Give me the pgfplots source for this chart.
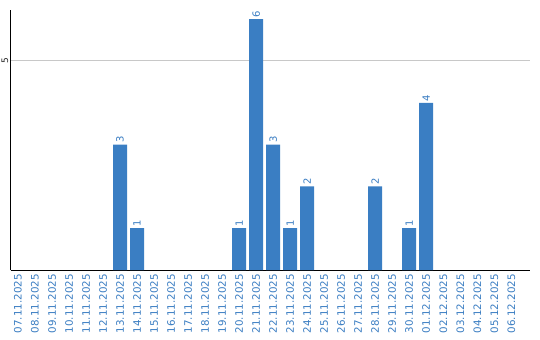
\documentclass[border=0pt]{standalone}
\usepackage{pgfplots}
\pgfplotsset{compat=1.18}
\usepackage{fontspec}
\setmainfont{DejaVu Sans}
\definecolor{barblue}{HTML}{3A7EC3}
\definecolor{txtblue}{HTML}{3A7DC2}
\definecolor{gridgray}{HTML}{C8C8C8}
\begin{document}
\begin{tikzpicture}
\useasboundingbox (-10.5bp,-70bp) rectangle (529.5bp,270bp);
\begin{axis}[
  at={(0,0)}, anchor=south west,
  scale only axis, width=519.5bp, height=260bp,
  xmin=-0.44, xmax=30.1, ymin=0, ymax=6.22,
  axis x line=bottom, axis y line=left,
  axis line style={-, black, line width=1bp},
  major tick length=0pt,
  xtick={0,...,29},
  xticklabels={07.11.2025,08.11.2025,09.11.2025,10.11.2025,11.11.2025,12.11.2025,13.11.2025,14.11.2025,15.11.2025,16.11.2025,17.11.2025,18.11.2025,19.11.2025,20.11.2025,21.11.2025,22.11.2025,23.11.2025,24.11.2025,25.11.2025,26.11.2025,27.11.2025,28.11.2025,29.11.2025,30.11.2025,01.12.2025,02.12.2025,03.12.2025,04.12.2025,05.12.2025,06.12.2025},
  xticklabel style={rotate=90, anchor=east, font=\fontsize{10.3bp}{12bp}\selectfont, text=txtblue, inner ysep=0pt, inner xsep=4bp},
  xtick pos=bottom,
  ytick={5}, yticklabels={5},
  yticklabel style={rotate=90, anchor=south, font=\fontsize{9bp}{10bp}\selectfont, text=black!85, inner sep=2bp},
  ymajorgrids, grid style={gridgray, line width=1bp},
  /pgf/number format/assume math mode=true,
  ybar, bar width=14bp, bar shift=0pt,
  nodes near coords,
  every node near coord/.append style={rotate=90, anchor=west, font=\fontsize{10bp}{12bp}\selectfont, text=txtblue, inner sep=1.5bp},
  clip=false,
]
\addplot[fill=barblue, draw=none] coordinates {
(6,3) (7,1) (13,1) (14,6) (15,3) (16,1) (17,2) (21,2) (23,1) (24,4)
};
\end{axis}
\end{tikzpicture}
\end{document}
